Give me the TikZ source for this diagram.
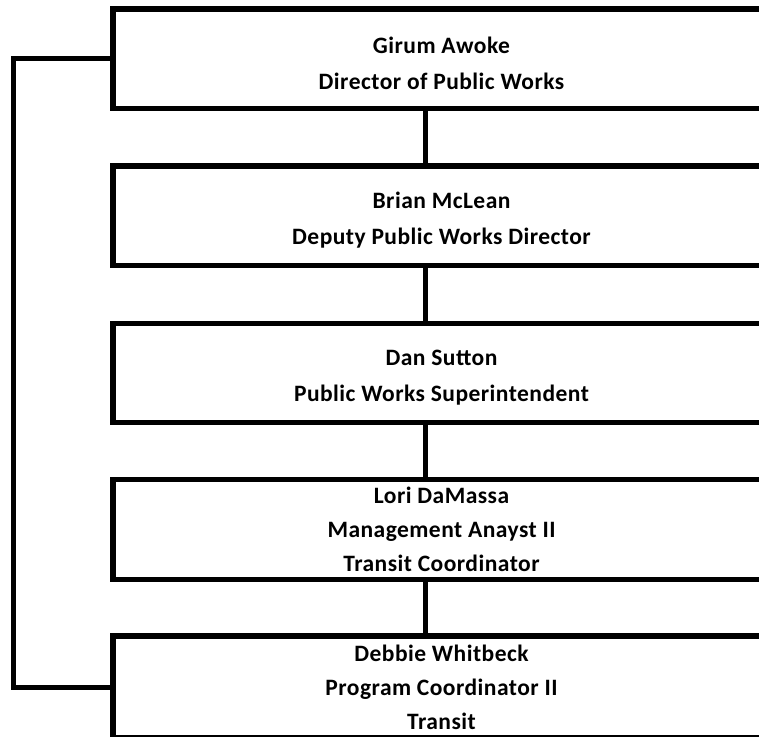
\documentclass[tikz,border=0pt]{standalone}
\usepackage{fontspec}
\setmainfont{Carlito}[LetterSpace=2]
\newcommand{\topstrut}{\rule{0pt}{25.5pt}}
\begin{document}
\begin{tikzpicture}[x=1pt,y=-1pt,
  box/.style={draw=black,line width=5.3pt,fill=white,minimum width=657pt,minimum height=99.5pt,
    inner sep=0pt,align=center,font=\fontsize{23.5}{34}\selectfont\bfseries},
  twoline/.style={font=\fontsize{23.5}{36}\selectfont\bfseries},
  link/.style={draw=black,line width=5pt}]
\useasboundingbox (0,0) rectangle (759,736);
\clip (0,0) rectangle (759,736);
\node[box,twoline] (b1) at (441.5,58.75) {\topstrut Girum Awoke\\Director of Public Works};
\node[box,twoline] (b2) at (441.5,215.75) {\topstrut Brian McLean\\Deputy Public Works Director};
\node[box,twoline] (b3) at (441.5,373) {\topstrut Dan Sutton\\Public Works Superintendent};
\node[box] (b4) at (441.5,529.5) {Lori DaMassa\\Management Anayst II\\Transit Coordinator};
\node[box,minimum height=102pt] (b5) at (441.5,687) {Debbie Whitbeck\\Program Coordinator II\\Transit};
\coordinate (spine) at (425.5,0);
\coordinate (left) at (13,0);
\draw[link] (b1.south -| spine) -- (b2.north -| spine);
\draw[link] (b2.south -| spine) -- (b3.north -| spine);
\draw[link] (b3.south -| spine) -- (b4.north -| spine);
\draw[link] (b4.south -| spine) -- (b5.north -| spine);
\draw[link,line join=miter] (b1.west) -- (b1.west -| left) -- (b5.west -| left) -- (b5.west);
\end{tikzpicture}
\end{document}
